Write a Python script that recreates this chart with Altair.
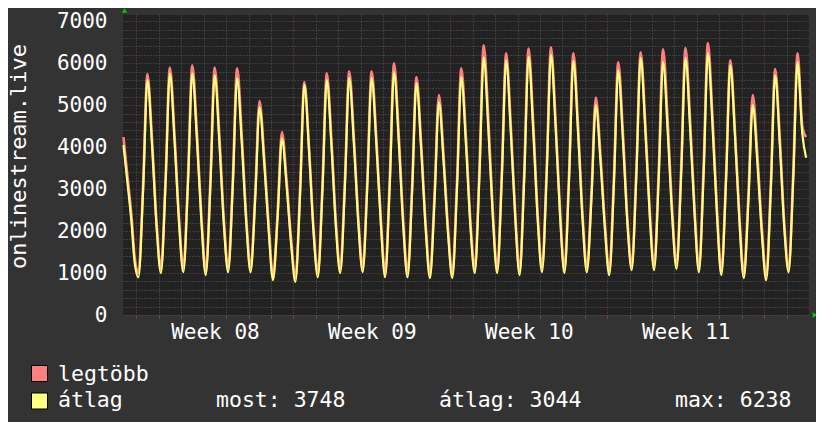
import altair as alt
import pandas as pd

# ---------------- data ----------------
series_names = ["legtöbb", "átlag"]
series_colors = ["#FF7F7F", "#FFFF7F"]
week_labels = ["Week 08", "Week 09", "Week 10", "Week 11"]
stat_labels = ["most: 3748", "átlag: 3044", "max: 6238"]
y_tick_values = list(range(0, 7001, 200))
day_ticks = list(range(0, 30))
week_mid_ticks = [3.5, 10.5, 17.5, 24.5]

# partial day before Week 08 starts (time in days from start of Week 08)
start_t = [-0.58, -0.37, -0.22, -0.08]
start_max = [4240, 3150, 2350, 1380]
start_avg = [4050, 3000, 2200, 1250]

# daily points: trough, rise, peak, fall, late fall
day_offsets = [0.09, 0.30, 0.49, 0.70, 0.90]

max_by_day = [
    [1000, 3130, 5740, 4130, 2190],
    [1100, 3260, 5900, 4270, 2300],
    [1120, 3290, 5950, 4310, 2330],
    [1050, 3230, 5900, 4250, 2260],
    [1120, 3260, 5880, 4260, 2310],
    [1120, 2910, 5100, 3750, 2120],
    [930, 2470, 4360, 3190, 1790],
    [890, 2990, 5550, 3970, 2060],
    [1000, 3140, 5760, 4140, 2190],
    [1100, 3220, 5810, 4210, 2280],
    [1120, 3230, 5810, 4220, 2290],
    [1000, 3250, 6000, 4300, 2250],
    [1000, 3100, 5670, 4080, 2170],
    [980, 2900, 5240, 3790, 2050],
    [980, 3190, 5880, 4210, 2210],
    [1100, 3500, 6430, 4620, 2430],
    [1100, 3410, 6240, 4490, 2390],
    [1050, 3440, 6350, 4550, 2380],
    [1120, 3490, 6380, 4590, 2440],
    [1100, 3410, 6240, 4490, 2380],
    [1120, 2950, 5180, 3800, 2140],
    [1050, 3290, 6020, 4330, 2290],
    [1170, 3460, 6260, 4530, 2440],
    [1170, 3490, 6330, 4580, 2460],
    [1200, 3520, 6360, 4610, 2490],
    [1120, 3530, 6480, 4660, 2460],
    [1050, 3310, 6070, 4360, 2310],
    [980, 2900, 5240, 3790, 2050],
    [930, 3150, 5860, 4180, 2160],
    [1120, 3420, 6240, 4500],
]

avg_by_day = [
    [900, 3020, 5600, 4000, 2080],
    [1000, 3140, 5760, 4140, 2190],
    [1020, 3150, 5760, 4150, 2200],
    [950, 3090, 5710, 4090, 2140],
    [1020, 3100, 5640, 4070, 2180],
    [1020, 2790, 4950, 3610, 2000],
    [830, 2350, 4210, 3060, 1680],
    [790, 2900, 5480, 3890, 1960],
    [900, 3000, 5600, 4020, 2060],
    [1000, 3090, 5650, 4070, 2160],
    [1020, 3100, 5650, 4080, 2180],
    [900, 3100, 5790, 4130, 2120],
    [900, 2980, 5520, 3950, 2060],
    [880, 2770, 5070, 3650, 1930],
    [880, 3040, 5670, 4040, 2080],
    [1000, 3310, 6140, 4390, 2290],
    [1000, 3280, 6070, 4350, 2270],
    [950, 3290, 6150, 4380, 2250],
    [1020, 3350, 6200, 4440, 2320],
    [1000, 3270, 6050, 4330, 2260],
    [1020, 2810, 5000, 3650, 2020],
    [950, 3150, 5830, 4170, 2170],
    [1070, 3340, 6120, 4400, 2330],
    [1070, 3300, 6030, 4340, 2310],
    [1100, 3360, 6120, 4410, 2360],
    [1020, 3370, 6240, 4470, 2330],
    [950, 3200, 5950, 4250, 2200],
    [880, 2730, 5000, 3600, 1910],
    [830, 3030, 5710, 4050, 2050],
    [1020, 3280, 6030, 4330],
]

end_t = 29.87
end_max = 4240
end_avg = 3748

# ---------------- table ----------------
times, mx, av = [], [], []
for t, m, a in zip(start_t, start_max, start_avg):
    times.append(t); mx.append(m); av.append(a)
for d, (ms, as_) in enumerate(zip(max_by_day, avg_by_day)):
    for off, m, a in zip(day_offsets, ms, as_):
        times.append(d + off); mx.append(m); av.append(a)
times.append(end_t); mx.append(end_max); av.append(end_avg)

df_max = pd.DataFrame({"t": times, "v": mx, "series": series_names[0]})
df_avg = pd.DataFrame({"t": times, "v": av, "series": series_names[1]})

FONT = "DejaVu Sans Mono"
MAJOR = "#7a4545"
MINOR = "#5a5a5a"

label_list = "[" + ",".join("'" + w + "'" for w in week_labels) + "]"

x_axis = alt.Axis(
    values=day_ticks + week_mid_ticks,
    grid=True,
    gridDash=[1, 2],
    gridWidth=1,
    gridColor={"condition": {"test": "datum.value % 7 === 0", "value": MAJOR}, "value": MINOR},
    gridOpacity={"condition": {"test": "datum.value % 1 !== 0", "value": 0}, "value": 1},
    ticks=True,
    tickSize=3,
    tickColor={"condition": {"test": "datum.value % 7 === 0", "value": MAJOR}, "value": MINOR},
    tickOpacity={"condition": {"test": "datum.value % 1 !== 0", "value": 0}, "value": 1},
    domain=False,
    labelExpr="datum.value % 1 !== 0 ? " + label_list + "[floor(datum.value / 7)] : ''",
    labelFont=FONT,
    labelFontSize=21,
    labelColor="#FFFFFF",
    labelPadding=3,
    labelOverlap=False,
    labelFlush=False,
    title=None,
)

y_axis = alt.Axis(
    values=y_tick_values,
    grid=True,
    gridDash=[1, 2],
    gridWidth=1,
    gridColor={"condition": {"test": "datum.value % 1000 === 0", "value": MAJOR}, "value": MINOR},
    ticks=False,
    domain=False,
    format="d",
    labelExpr="datum.value % 1000 === 0 ? datum.label : ''",
    labelFont=FONT,
    labelFontSize=21,
    labelColor="#FFFFFF",
    labelPadding=16,
    labelOverlap=False,
    title="onlinestream.live",
    titleFont=FONT,
    titleFontSize=22,
    titleFontWeight="normal",
    titleColor="#FFFFFF",
    titleAngle=270,
    titleX=-105,
    titleY=141,
    titleAlign="center",
    titleBaseline="middle",
)

x_enc = alt.X("t:Q", scale=alt.Scale(domain=[-0.6, 30.0], nice=False, zero=False), axis=x_axis)
y_enc = alt.Y("v:Q", scale=alt.Scale(domain=[0, 7150], nice=False, zero=True), axis=y_axis)
color_scale = alt.Scale(domain=series_names, range=series_colors)
color_enc = alt.Color("series:N", scale=color_scale, legend=None)

line_max = alt.Chart(df_max).mark_line(strokeWidth=2.6, interpolate="monotone").encode(
    x=x_enc, y=y_enc, color=color_enc
)
line_avg = alt.Chart(df_avg).mark_line(strokeWidth=2.2, interpolate="monotone").encode(
    x=x_enc, y=y_enc, color=color_enc
)

legend_df = pd.DataFrame({"series": series_names})

def legend_square(i, y):
    return alt.Chart(legend_df).transform_filter(
        alt.datum.series == series_names[i]
    ).mark_square(size=256, filled=True, opacity=1, stroke="#000000", strokeWidth=1).encode(
        x=alt.value(-83.5), y=alt.value(y), color=color_enc
    )

def legend_text(i, y):
    return alt.Chart(legend_df).transform_filter(
        alt.datum.series == series_names[i]
    ).mark_text(font=FONT, fontSize=21.5, color="#FFFFFF", align="left", baseline="alphabetic").encode(
        x=alt.value(-65), y=alt.value(y), text="series:N"
    )

def stat_text(i, x):
    return alt.Chart(pd.DataFrame({"s": [stat_labels[i]]})).mark_text(
        font=FONT, fontSize=21.5, color="#FFFFFF", align="left", baseline="alphabetic"
    ).encode(x=alt.value(x), y=alt.value(392), text="s:N")

arrow_df = pd.DataFrame({"a": [0]})
arrow_up = alt.Chart(arrow_df).mark_point(shape="triangle-up", filled=True, size=28, color="#00CC00", opacity=1).encode(
    x=alt.value(1.5), y=alt.value(-4.5)
)
arrow_right = alt.Chart(arrow_df).mark_point(shape="triangle-right", filled=True, size=28, color="#00CC00", opacity=1).encode(
    x=alt.value(692), y=alt.value(300)
)

chart = alt.layer(
    line_max, line_avg,
    legend_square(0, 358.5), legend_square(1, 386),
    legend_text(0, 366), legend_text(1, 392),
    stat_text(0, 93), stat_text(1, 316), stat_text(2, 552),
    arrow_up, arrow_right,
).properties(
    width=686,
    height=300,
    autosize=alt.AutoSizeParams(type="none"),
    padding={"left": 115, "top": 7, "right": 7, "bottom": 107},
).configure(
    background="#333333",
).configure_view(
    fill="#222222",
    strokeWidth=0,
)

chart.save("out.html", embed_options={"renderer": "svg", "actions": False})
